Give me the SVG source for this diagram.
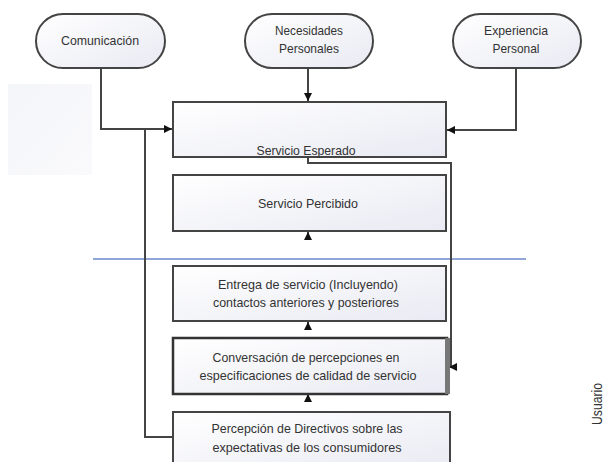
<svg xmlns="http://www.w3.org/2000/svg" width="606" height="462" viewBox="0 0 606 462">
<defs>
<linearGradient id="g" x1="0" y1="0" x2="1" y2="1">
<stop offset="0" stop-color="#ffffff"/>
<stop offset="1" stop-color="#e9eaf3"/>
</linearGradient>
<linearGradient id="bg" x1="0" y1="0" x2="1" y2="1">
<stop offset="0" stop-color="#f4f5f9"/>
<stop offset="1" stop-color="#fafafc"/>
</linearGradient>
<marker id="ah" viewBox="0 0 8 8" refX="8" refY="4" markerWidth="8" markerHeight="8" markerUnits="userSpaceOnUse" orient="auto">
<path d="M0,0 L8,4 L0,8 Z" fill="#111"/>
</marker>
</defs>
<style>
.n{fill:url(#g);stroke:#444;stroke-width:2}
.c{fill:none;stroke:#444;stroke-width:2}
text{font-family:"Liberation Sans Narrow","Liberation Sans",Arial,sans-serif;font-size:13px;fill:#333;text-anchor:middle;dominant-baseline:central}
</style>
<rect x="8" y="84" width="84" height="91" fill="url(#bg)"/>
<line x1="93" y1="259" x2="526" y2="259" stroke="#8fa6d8" stroke-width="2"/>

<g id="connectors">
<path class="c" d="M101,68 V129 H172" marker-end="url(#ah)"/>
<path class="c" d="M308,68 V101" marker-end="url(#ah)"/>
<path class="c" d="M516,68 V130 H447" marker-end="url(#ah)"/>
<path class="c" d="M308,157 V163 H451 V367 H449" marker-end="url(#ah)"/>
<path class="c" d="M173,437 H145 V129 H160"/>
<path class="c" d="M308,240 V232" stroke="none" marker-end="url(#ah)"/>
<path class="c" d="M308,330 V322" stroke="none" marker-end="url(#ah)"/>
<path class="c" d="M308,402 V394" stroke="none" marker-end="url(#ah)"/>
</g>

<g id="comunicacion">
<rect class="n" x="36" y="14" width="129" height="54" rx="27"/>
<text x="100" y="40" textLength="78" lengthAdjust="spacingAndGlyphs">Comunicación</text>
</g>
<g id="necesidades">
<rect class="n" x="245" y="14" width="128" height="54" rx="27"/>
<text x="309" y="30" textLength="68" lengthAdjust="spacingAndGlyphs">Necesidades</text>
<text x="309" y="48" textLength="60" lengthAdjust="spacingAndGlyphs">Personales</text>
</g>
<g id="experiencia">
<rect class="n" x="453" y="14" width="128" height="54" rx="27"/>
<text x="516" y="30" textLength="64" lengthAdjust="spacingAndGlyphs">Experiencia</text>
<text x="516" y="48" textLength="47" lengthAdjust="spacingAndGlyphs">Personal</text>
</g>
<g id="esperado">
<rect class="n" x="173" y="102" width="273" height="55"/>
<text x="306" y="150" textLength="99" lengthAdjust="spacingAndGlyphs">Servicio Esperado</text>
</g>
<g id="percibido">
<rect class="n" x="173" y="175" width="273" height="56"/>
<text x="308" y="203" textLength="100" lengthAdjust="spacingAndGlyphs">Servicio Percibido</text>
</g>
<g id="entrega">
<rect class="n" x="173" y="266" width="273" height="55"/>
<text x="308" y="284" textLength="180" lengthAdjust="spacingAndGlyphs">Entrega de servicio (Incluyendo)</text>
<text x="306" y="302" textLength="186" lengthAdjust="spacingAndGlyphs">contactos anteriores y posteriores</text>
</g>
<g id="conversacion">
<rect x="173" y="338" width="274" height="56" fill="url(#g)" stroke="#333" stroke-width="2.5"/>
<rect x="445" y="338" width="5" height="56" fill="#777"/>
<text x="306" y="357" textLength="187" lengthAdjust="spacingAndGlyphs">Conversación de percepciones en</text>
<text x="308" y="375" textLength="217" lengthAdjust="spacingAndGlyphs">especificaciones de calidad de servicio</text>
</g>
<g id="percepcion">
<rect class="n" x="173" y="412" width="277" height="60"/>
<text x="307" y="428" textLength="191" lengthAdjust="spacingAndGlyphs">Percepción de Directivos sobre las</text>
<text x="307" y="447" textLength="189" lengthAdjust="spacingAndGlyphs">expectativas de los consumidores</text>
</g>
<g id="usuario">
<text x="0" y="0" transform="translate(597,404) rotate(-90)" textLength="42" lengthAdjust="spacingAndGlyphs" style="font-size:14px">Usuario</text>
</g>
</svg>
